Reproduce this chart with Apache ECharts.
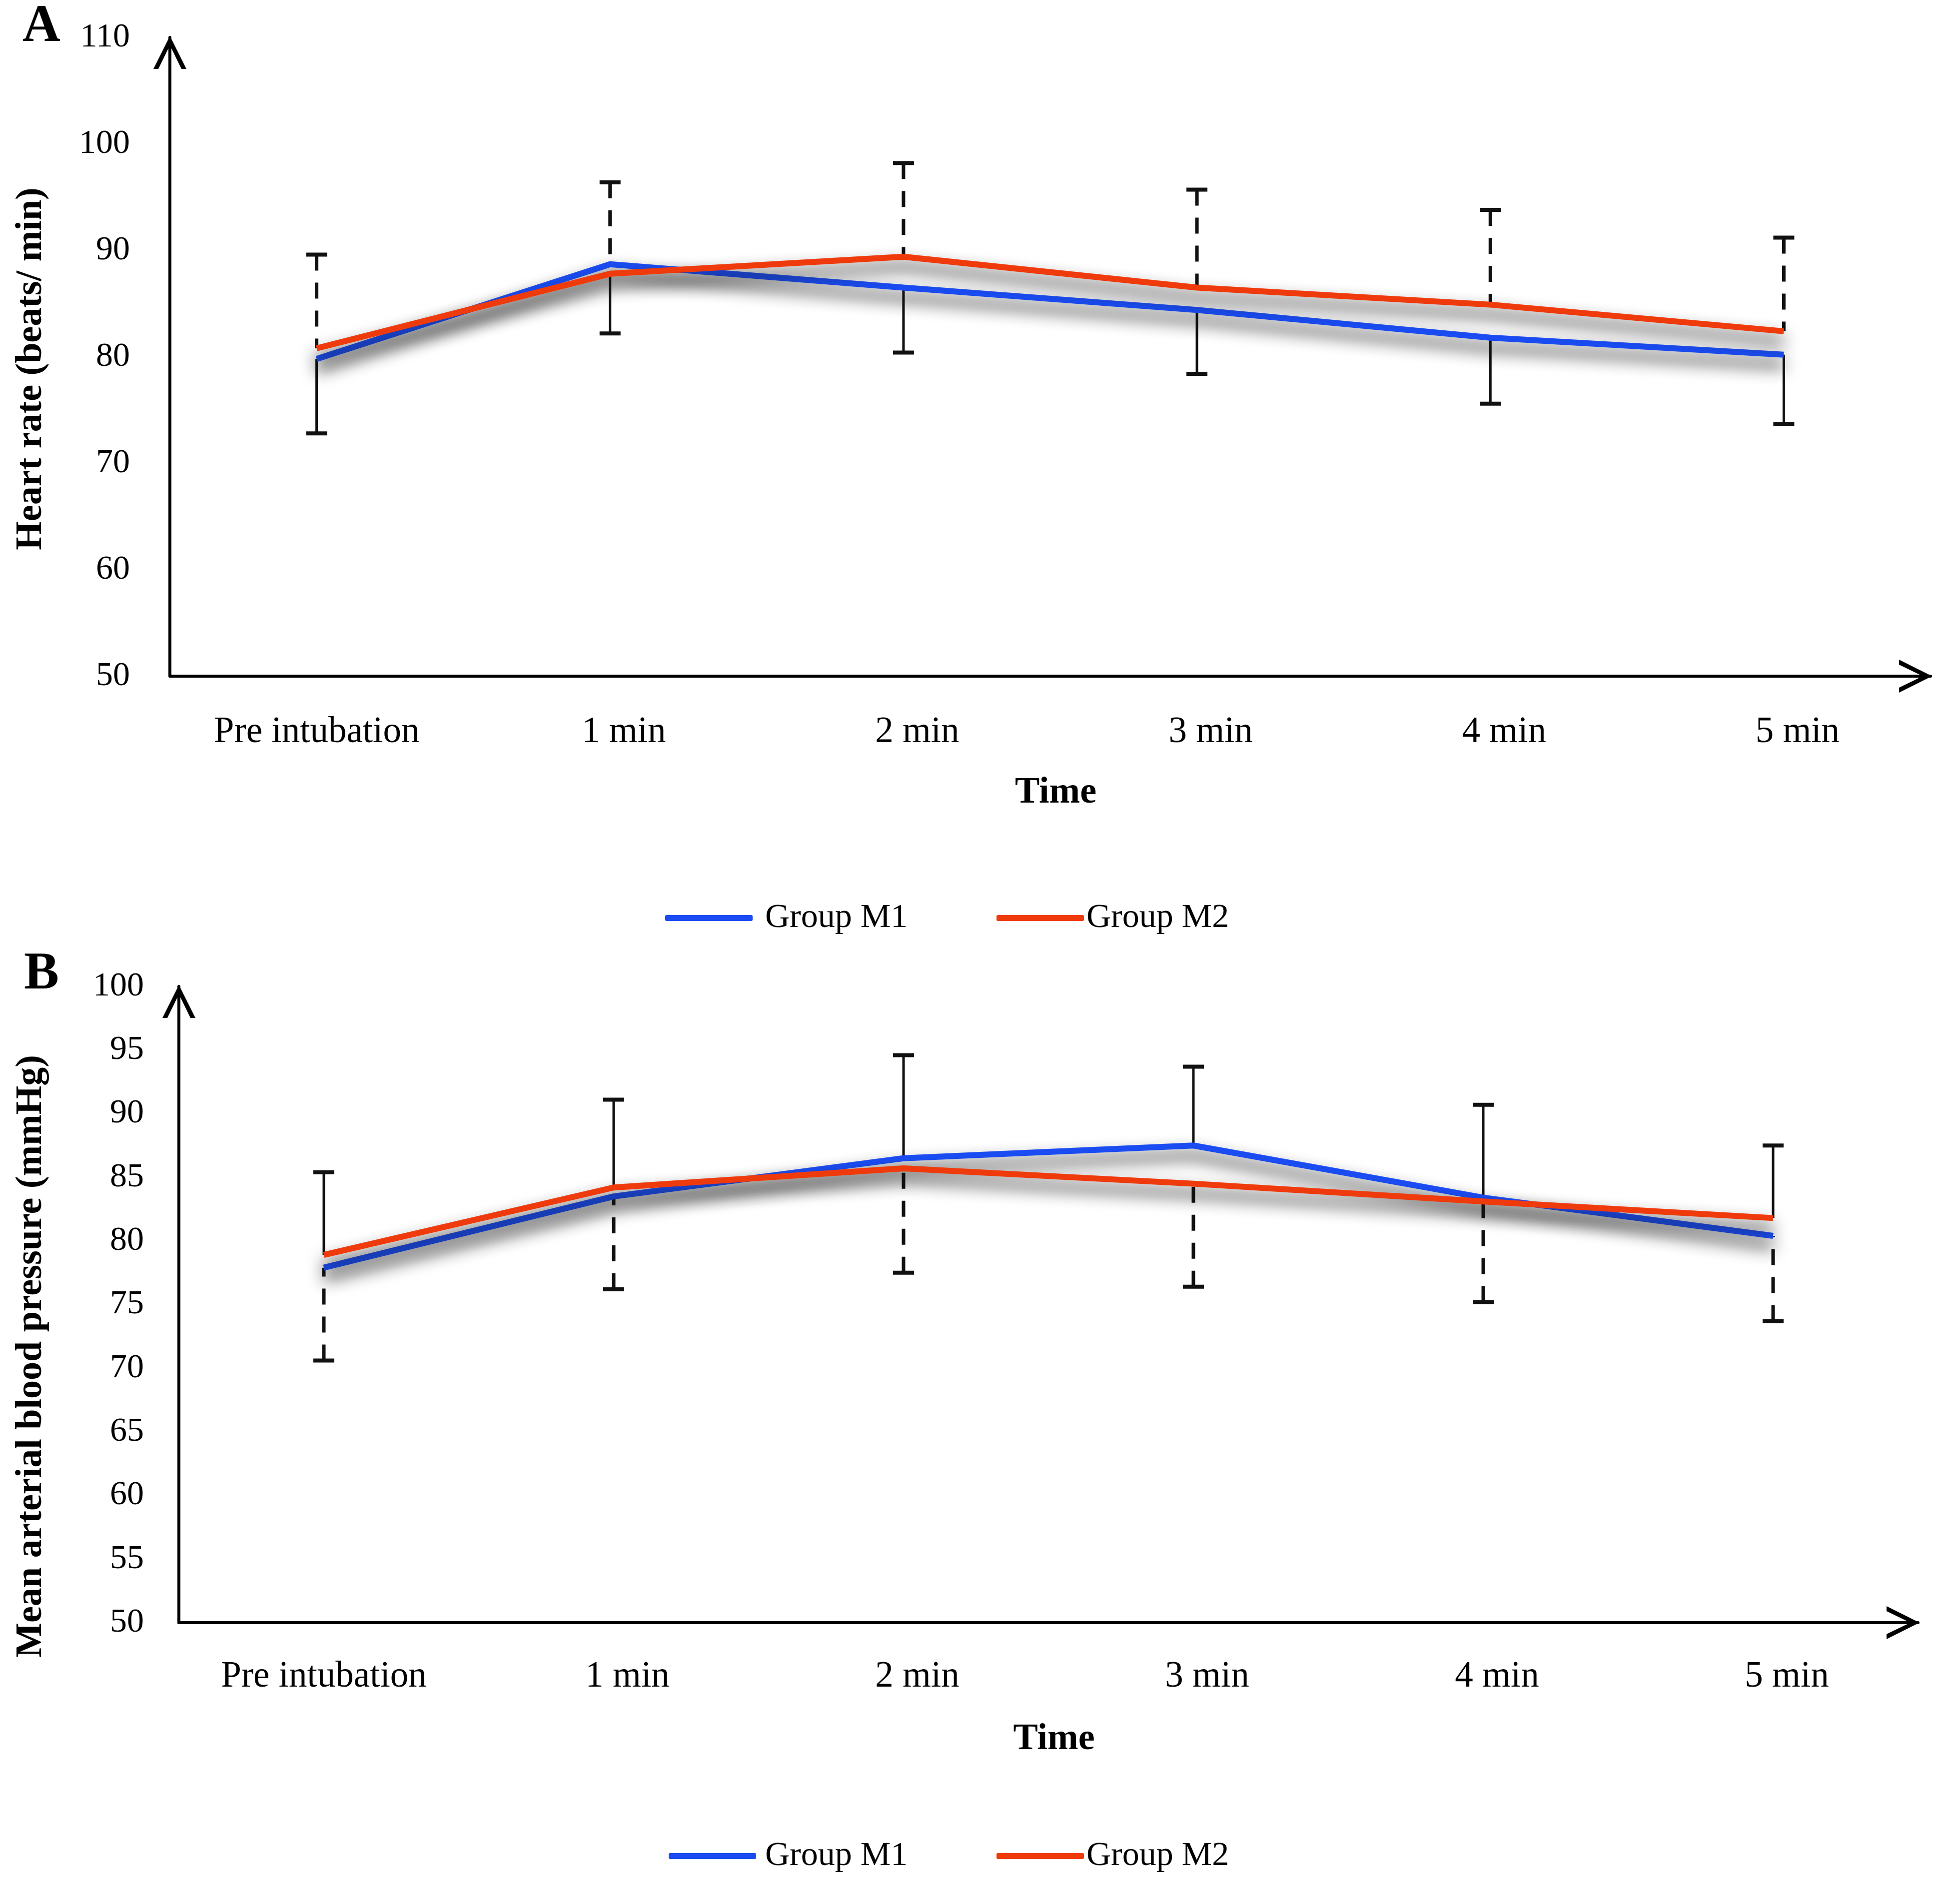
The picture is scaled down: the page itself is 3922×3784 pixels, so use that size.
<!DOCTYPE html>
<html>
<head>
<meta charset="utf-8">
<script src="https://cdn.jsdelivr.net/npm/echarts@6/dist/echarts.min.js"></script>
<style>
html,body{margin:0;padding:0;background:#fff;}
#chart{width:3922px;height:3784px;}
</style>
</head>
<body>
<div id="chart"></div>
<script>
// ---- data ----
const categories = ['Pre intubation', '1 min', '2 min', '3 min', '4 min', '5 min'];
const hrTicks = [50, 60, 70, 80, 90, 100, 110];
const mapTicks = [50, 55, 60, 65, 70, 75, 80, 85, 90, 95, 100];
// Panel A: heart rate (beats/min)
const hrM1 = [79.8, 88.7, 86.5, 84.4, 81.8, 80.2];
const hrM2 = [80.8, 87.8, 89.4, 86.5, 84.9, 82.4];
const hrUpper = [89.6, 96.4, 98.2, 95.7, 93.8, 91.2];   // dashed bars (up)
const hrLower = [72.8, 82.2, 80.4, 78.4, 75.6, 73.7];   // solid bars (down)
// Panel B: mean arterial blood pressure (mmHg)
const mapM1 = [77.9, 83.5, 86.5, 87.5, 83.4, 80.4];
const mapM2 = [78.9, 84.2, 85.7, 84.5, 83.1, 81.8];
const mapUpper = [85.4, 91.1, 94.6, 93.7, 90.7, 87.5];  // solid bars (up)
const mapLower = [70.6, 76.2, 77.5, 76.4, 75.2, 73.7];  // dashed bars (down)

const BLUE = '#1a4cf2';
const RED = '#ef3a0c';
const SERIF = '"Liberation Serif", "DejaVu Serif", serif';

function barData(a, b, ends, up) {
  return ends.map((e, i) => [i, up ? Math.max(a[i], b[i]) : Math.min(a[i], b[i]), e]);
}

function errRender(dashed) {
  return function (params, api) {
    const x = api.value(0);
    const p0 = api.coord([x, api.value(1)]);
    const p1 = api.coord([x, api.value(2)]);
    const cap = 21;
    const style = {stroke: '#111', lineWidth: dashed ? 7 : 5, fill: null};
    if (dashed) style.lineDash = [32, 24];
    return {
      type: 'group',
      children: [
        {type: 'line', shape: {x1: p1[0], y1: p1[1], x2: p0[0], y2: p0[1]}, style: style},
        {type: 'line', shape: {x1: p1[0] - cap, y1: p1[1], x2: p1[0] + cap, y2: p1[1]},
         style: {stroke: '#111', lineWidth: 8}}
      ]
    };
  };
}

const arrowPath = 'path://M0,100 L50,0 L100,100 L85,100 L50,28 L15,100 Z';

function axisLineStyle() {
  return {
    show: true,
    lineStyle: {color: '#000', width: 6},
    symbol: ['none', arrowPath],
    symbolSize: [74, 66],
    symbolOffset: [0, -30]
  };
}

function lineSeries(name, data, xi) {
  const c = name === 'Group M1' ? BLUE : RED;
  return {
    type: 'line', name: name, data: data, xAxisIndex: xi, yAxisIndex: xi,
    symbol: 'none', z: 5, color: c,
    lineStyle: {width: 12, color: c,
      shadowColor: 'rgba(20,20,20,0.95)', shadowBlur: 32, shadowOffsetY: 20},
    animation: false
  };
}

function legend(name, left, top, gap) {
  return {
    data: [name], left: left, top: top, padding: 0, icon: 'roundRect',
    itemWidth: 175, itemHeight: 12, itemGap: 0,
    textStyle: {fontFamily: SERIF, fontSize: 68, color: '#000', padding: [0, 0, 0, gap]}
  };
}

function xData() {
  return categories.map((c, i) => i === 0 ? c : {value: c, textStyle: {padding: [0, 0, 0, 55]}});
}

const chart = echarts.init(document.getElementById('chart'), null, {renderer: 'canvas'});
const option = {
  backgroundColor: '#fff',
  animation: false,
  grid: [
    {left: 340, top: 75, width: 3523, height: 1278},
    {left: 358, top: 1974, width: 3480, height: 1273}
  ],
  xAxis: [0, 1].map(i => ({
    type: 'category', gridIndex: i, data: xData(), boundaryGap: true,
    axisLine: axisLineStyle(), axisTick: {show: false},
    axisLabel: {fontFamily: SERIF, fontSize: 73, color: '#000', margin: i === 0 ? 76 : 72},
    name: 'Time', nameLocation: 'middle', nameGap: 197,
    nameTextStyle: {fontFamily: SERIF, fontSize: 74, fontWeight: 'bold', color: '#000', padding: [0, 0, 0, 22]}
  })),
  yAxis: [
    {type: 'value', gridIndex: 0, min: hrTicks[0], max: hrTicks[hrTicks.length - 1], interval: 10,
     axisLine: axisLineStyle(), axisTick: {show: false}, splitLine: {show: false},
     axisLabel: {fontFamily: SERIF, fontSize: 68, color: '#000', margin: 80}},
    {type: 'value', gridIndex: 1, min: mapTicks[0], max: mapTicks[mapTicks.length - 1], interval: 5,
     axisLine: axisLineStyle(), axisTick: {show: false}, splitLine: {show: false},
     axisLabel: {fontFamily: SERIF, fontSize: 68, color: '#000', margin: 70}}
  ],
  legend: [
    legend('Group M1', 1331, 1803, 20),
    legend('Group M2', 1994, 1803, 0),
    legend('Group M1', 1338, 3680, 13),
    legend('Group M2', 1994, 3680, 0)
  ],
  graphic: [
    {type: 'text', x: 83, y: 55, style: {text: 'A', fontFamily: SERIF, fontSize: 105, fontWeight: 'bold',
      fill: '#000', align: 'center', verticalAlign: 'middle'}},
    {type: 'text', x: 83, y: 1951, style: {text: 'B', fontFamily: SERIF, fontSize: 105, fontWeight: 'bold',
      fill: '#000', align: 'center', verticalAlign: 'middle'}},
    {type: 'text', x: 63, y: 738, rotation: Math.PI / 2, style: {text: 'Heart rate (beats/ min)',
      fontFamily: SERIF, fontSize: 74, fontWeight: 'bold', fill: '#000', align: 'center', verticalAlign: 'middle'}},
    {type: 'text', x: 63, y: 2714, rotation: Math.PI / 2, style: {text: 'Mean arterial blood pressure (mmHg)',
      fontFamily: SERIF, fontSize: 74, fontWeight: 'bold', fill: '#000', align: 'center', verticalAlign: 'middle'}}
  ],
  series: [
    {type: 'custom', xAxisIndex: 0, yAxisIndex: 0, z: 3, renderItem: errRender(true),
     data: barData(hrM1, hrM2, hrUpper, true), encode: {x: 0, y: [1, 2]}, silent: true},
    {type: 'custom', xAxisIndex: 0, yAxisIndex: 0, z: 3, renderItem: errRender(false),
     data: barData(hrM1, hrM2, hrLower, false), encode: {x: 0, y: [1, 2]}, silent: true},
    {type: 'custom', xAxisIndex: 1, yAxisIndex: 1, z: 3, renderItem: errRender(false),
     data: barData(mapM1, mapM2, mapUpper, true), encode: {x: 0, y: [1, 2]}, silent: true},
    {type: 'custom', xAxisIndex: 1, yAxisIndex: 1, z: 3, renderItem: errRender(true),
     data: barData(mapM1, mapM2, mapLower, false), encode: {x: 0, y: [1, 2]}, silent: true},
    lineSeries('Group M1', hrM1, 0),
    lineSeries('Group M2', hrM2, 0),
    lineSeries('Group M1', mapM1, 1),
    lineSeries('Group M2', mapM2, 1)
  ]
};
chart.setOption(option);
</script>
</body>
</html>
